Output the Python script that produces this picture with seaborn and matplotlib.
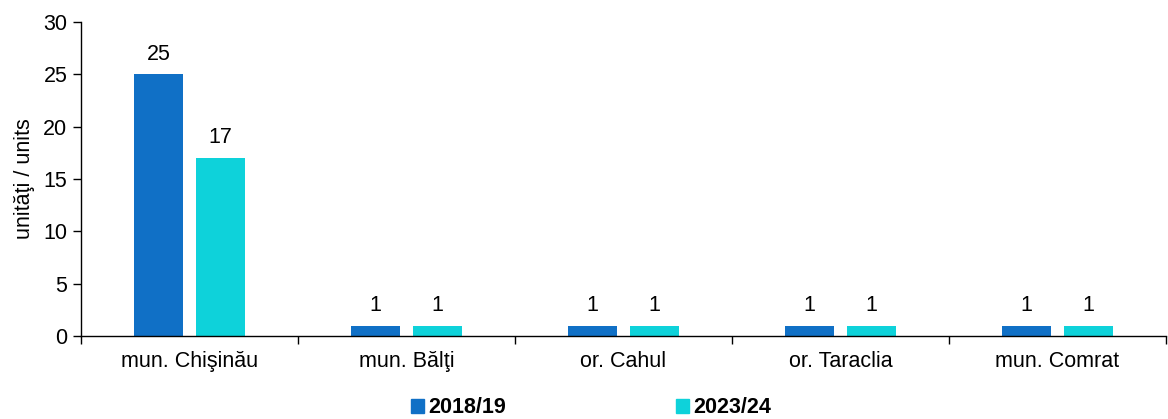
import numpy as np
import pandas as pd
import matplotlib
matplotlib.use('Agg')
import matplotlib.pyplot as plt
from matplotlib.ticker import FixedLocator, MultipleLocator
import seaborn as sns

regions = ['mun. Chişinău', 'mun. Bălţi', 'or. Cahul', 'or. Taraclia', 'mun. Comrat']
years = ['2018/19', '2023/24']
units_2018 = [25, 1, 1, 1, 1]
units_2023 = [17, 1, 1, 1, 1]
colors = ['#1070C6', '#0ED2DA']

df = pd.DataFrame({
    'region': regions * 2,
    'year': [years[0]] * len(regions) + [years[1]] * len(regions),
    'units': units_2018 + units_2023,
})

sns.set_style('white')
plt.rcParams['font.family'] = ['Liberation Sans', 'DejaVu Sans']
plt.rcParams['text.color'] = 'black'
plt.rcParams['axes.labelcolor'] = 'black'
plt.rcParams['xtick.color'] = 'black'
plt.rcParams['ytick.color'] = 'black'
fs = 15.5

fig = plt.figure(figsize=(11.68, 4.19), dpi=100)
ax = fig.add_axes([0.0695, 0.198, 0.9285, 0.7495])

sns.barplot(data=df, x='region', y='units', hue='year', order=regions,
            hue_order=years, palette=colors, width=0.571, gap=0.21,
            saturation=1, linewidth=0, ax=ax, legend=False)

for cont in ax.containers:
    ax.bar_label(cont, fmt='%d', padding=7, fontsize=fs, color='black')

ax.set_xlim(-0.5, len(regions) - 0.5)
ax.set_ylim(0, 30)
ax.yaxis.set_major_locator(MultipleLocator(5))
ax.set_xlabel('')
ax.set_ylabel('unităţi / units', fontsize=fs, labelpad=6)

# category boundaries get the tick marks, labels sit in the middle
ax.xaxis.set_minor_locator(FixedLocator(np.arange(-0.5, len(regions), 1.0)))
ax.tick_params(axis='x', which='major', length=0, labelsize=fs, pad=11)
ax.tick_params(axis='x', which='minor', length=6, width=1, color='black', direction='out', bottom=True)
ax.tick_params(axis='y', length=6, width=1, color='black', direction='out', left=True, labelsize=fs, pad=4)

for side in ['top', 'right']:
    ax.spines[side].set_visible(False)
for side in ['left', 'bottom']:
    ax.spines[side].set_color('black')
    ax.spines[side].set_linewidth(1)

handles = [plt.Rectangle((0, 0), 1, 1, color=c) for c in colors]
fig.legend(handles, years, loc='lower center', bbox_to_anchor=(0.506, -0.045), ncol=2,
           frameon=False, handlelength=0.6, handleheight=0.6, handletextpad=0.2,
           columnspacing=7.9, prop={'weight': 'bold', 'size': fs})

fig.savefig('out.png', dpi=100)
